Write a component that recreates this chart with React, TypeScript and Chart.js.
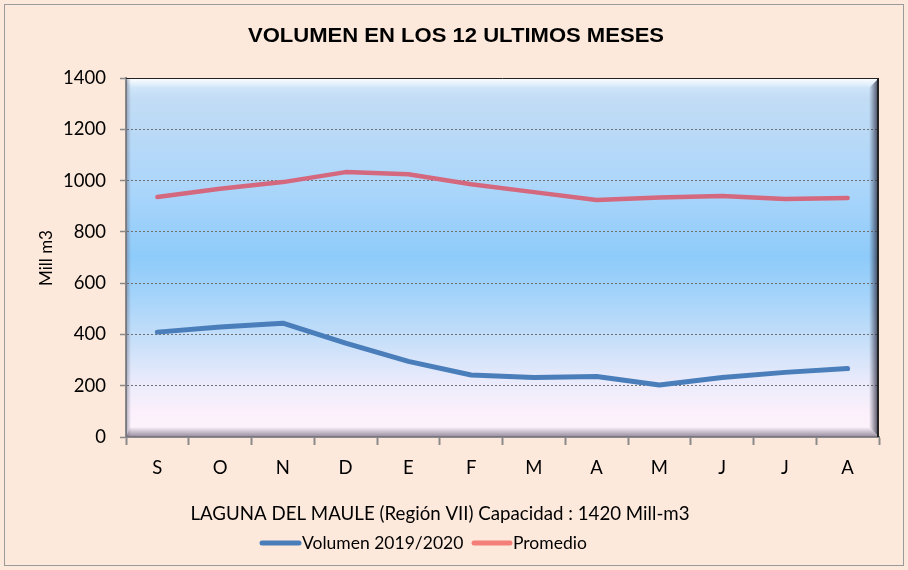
import React, { useEffect, useRef } from "react";
import { Chart, registerables } from "chart.js";

Chart.register(...registerables);

const categories = ["S", "O", "N", "D", "E", "F", "M", "A", "M", "J", "J", "A"];
const volumen = [409, 429, 444, 366, 295, 242, 232, 236, 203, 232, 252, 267];
const promedio = [936, 968, 994, 1033, 1025, 986, 955, 924, 934, 940, 928, 932];
const yTicks = [0, 200, 400, 600, 800, 1000, 1200, 1400];

const TITLE = "VOLUMEN EN LOS 12 ULTIMOS MESES";
const SUBTITLE = "LAGUNA DEL MAULE (Región VII) Capacidad : 1420 Mill-m3";
const Y_TITLE = "Mill m3";
const SERIES_NAMES = ["Volumen 2019/2020", "Promedio"];

const BLUE = "#4a7ebb";
const RED = "#d4687e";
const RED_LEGEND = "#f47e78";
const FONT = "Lato, 'Noto Sans', sans-serif";

const decorPlugin = {
  id: "decor",
  beforeDraw(chart: any) {
    const { ctx, width, height } = chart;
    const { left, top, right, bottom } = chart.chartArea;
    ctx.save();
    ctx.fillStyle = "#fde9db";
    ctx.fillRect(0, 0, width, height);
    ctx.strokeStyle = "#9a9a9a";
    ctx.lineWidth = 1;
    ctx.strokeRect(4.5, 4.5, width - 9, height - 9);

    const g = ctx.createLinearGradient(0, top, 0, bottom);
    g.addColorStop(0, "#d8ebfb");
    g.addColorStop(0.06, "#c2dcf5");
    g.addColorStop(0.3, "#acd6fa");
    g.addColorStop(0.5, "#8ecbfa");
    g.addColorStop(0.6, "#a3d3fa");
    g.addColorStop(0.72, "#c3def9");
    g.addColorStop(0.85, "#ebebfb");
    g.addColorStop(0.93, "#fbf0fb");
    g.addColorStop(1, "#fdf4fc");
    ctx.fillStyle = g;
    ctx.fillRect(left, top, right - left, bottom - top);
    ctx.restore();
  },
  beforeDatasetsDraw(chart: any) {
    const { ctx } = chart;
    const { left, top, right, bottom } = chart.chartArea;
    ctx.save();
    const b = 10;
    let g = ctx.createLinearGradient(0, top, 0, top + b);
    g.addColorStop(0, "rgba(255,255,255,0.95)");
    g.addColorStop(1, "rgba(255,255,255,0)");
    ctx.fillStyle = g;
    ctx.beginPath();
    ctx.moveTo(left, top);
    ctx.lineTo(right, top);
    ctx.lineTo(right - b, top + b);
    ctx.lineTo(left + 4, top + b);
    ctx.closePath();
    ctx.fill();
    g = ctx.createLinearGradient(right - b, 0, right, 0);
    g.addColorStop(0, "rgba(60,60,80,0)");
    g.addColorStop(1, "rgba(40,40,60,0.9)");
    ctx.fillStyle = g;
    ctx.beginPath();
    ctx.moveTo(right, top);
    ctx.lineTo(right, bottom);
    ctx.lineTo(right - b, bottom - b);
    ctx.lineTo(right - b, top + b);
    ctx.closePath();
    ctx.fill();
    g = ctx.createLinearGradient(0, bottom - b, 0, bottom);
    g.addColorStop(0, "rgba(120,110,130,0)");
    g.addColorStop(1, "rgba(120,110,130,0.8)");
    ctx.fillStyle = g;
    ctx.beginPath();
    ctx.moveTo(left, bottom);
    ctx.lineTo(right, bottom);
    ctx.lineTo(right - b, bottom - b);
    ctx.lineTo(left + 4, bottom - b);
    ctx.closePath();
    ctx.fill();
    g = ctx.createLinearGradient(left, 0, left + 5, 0);
    g.addColorStop(0, "rgba(100,100,120,0.5)");
    g.addColorStop(1, "rgba(100,100,120,0)");
    ctx.fillStyle = g;
    ctx.fillRect(left, top, 5, bottom - top);
    ctx.strokeStyle = "#222";
    ctx.lineWidth = 1;
    ctx.beginPath();
    ctx.moveTo(left, top + 0.5);
    ctx.lineTo(right, top + 0.5);
    ctx.stroke();
    ctx.lineWidth = 2;
    ctx.beginPath();
    ctx.moveTo(right - 1, top);
    ctx.lineTo(right - 1, bottom);
    ctx.stroke();
    ctx.restore();
  },
  afterDraw(chart: any) {
    const { ctx } = chart;
    ctx.save();
    ctx.fillStyle = "#000";
    ctx.textBaseline = "middle";
    ctx.textAlign = "center";

    ctx.save();
    ctx.translate(456, 36);
    ctx.scale(1.05, 1);
    ctx.font = "bold 21px 'Liberation Sans', Arial, sans-serif";
    ctx.fillText(TITLE, 0, 0);
    ctx.restore();

    ctx.font = `18.7px ${FONT}`;
    ctx.fillText(SUBTITLE, 440, 514);

    ctx.save();
    ctx.translate(47, 258);
    ctx.rotate(-Math.PI / 2);
    ctx.font = `17px ${FONT}`;
    ctx.fillText(Y_TITLE, 0, 0);
    ctx.restore();

    ctx.lineCap = "round";
    ctx.lineWidth = 5;
    ctx.strokeStyle = BLUE;
    ctx.beginPath();
    ctx.moveTo(262, 543);
    ctx.lineTo(299, 543);
    ctx.stroke();
    ctx.strokeStyle = RED_LEGEND;
    ctx.beginPath();
    ctx.moveTo(474, 543);
    ctx.lineTo(510, 543);
    ctx.stroke();
    ctx.textAlign = "left";
    ctx.font = `17.5px ${FONT}`;
    ctx.fillText(SERIES_NAMES[0], 302, 543);
    ctx.fillText(SERIES_NAMES[1], 513, 543);
    ctx.restore();
  },
};

export default function App() {
  const ref = useRef<HTMLCanvasElement>(null);
  useEffect(() => {
    document.body.style.margin = "0";
    const chart = new Chart(ref.current as HTMLCanvasElement, {
      type: "line",
      data: {
        labels: categories,
        datasets: [
          {
            label: SERIES_NAMES[0],
            data: volumen,
            borderColor: BLUE,
            borderWidth: 5,
            pointRadius: 0,
            tension: 0,
            borderCapStyle: "round",
            borderJoinStyle: "round",
          },
          {
            label: SERIES_NAMES[1],
            data: promedio,
            borderColor: RED,
            borderWidth: 4.5,
            pointRadius: 0,
            tension: 0,
            borderCapStyle: "round",
            borderJoinStyle: "round",
          },
        ],
      },
      options: {
        responsive: false,
        animation: false,
        layout: { padding: { top: 78, left: 0, right: 29, bottom: 0 } },
        plugins: {
          legend: { display: false },
          title: { display: false },
          tooltip: { enabled: false },
        },
        scales: {
          x: {
            type: "category",
            offset: true,
            grid: {
              offset: true,
              drawOnChartArea: false,
              tickLength: 8,
              tickColor: "#8a8a8a",
              tickWidth: 2,
            },
            border: { color: "#8a8a8a", width: 2 },
            ticks: { color: "#000", font: { family: FONT, size: 18.5 }, padding: 12, maxRotation: 0 },
            afterFit: (s: any) => {
              s.height = 133;
            },
          },
          y: {
            min: 0,
            max: 1400,
            afterBuildTicks: (s: any) => {
              s.ticks = yTicks.map((v) => ({ value: v }));
            },
            grid: {
              tickLength: 6,
              tickColor: "#8a8a8a",
              tickWidth: 1.5,
              tickBorderDash: [],
              color: (c: any) =>
                c.tick && (c.tick.value === 0 || c.tick.value === 1400) ? "rgba(0,0,0,0)" : "#6f6f6f",
              lineWidth: 1,
            },
            border: { color: "#8a8a8a", width: 2, dash: [2, 2] },
            ticks: {
              color: "#000",
              font: { family: FONT, size: 18.5 },
              padding: 14,
              callback: (v: any) => String(v),
            },
            afterFit: (s: any) => {
              s.width = 126;
            },
          },
        },
      },
      plugins: [decorPlugin],
    } as any);
    return () => chart.destroy();
  }, []);
  return (
    <div style={{ width: 908, height: 570 }}>
      <canvas ref={ref} width={908} height={570} />
    </div>
  );
}
